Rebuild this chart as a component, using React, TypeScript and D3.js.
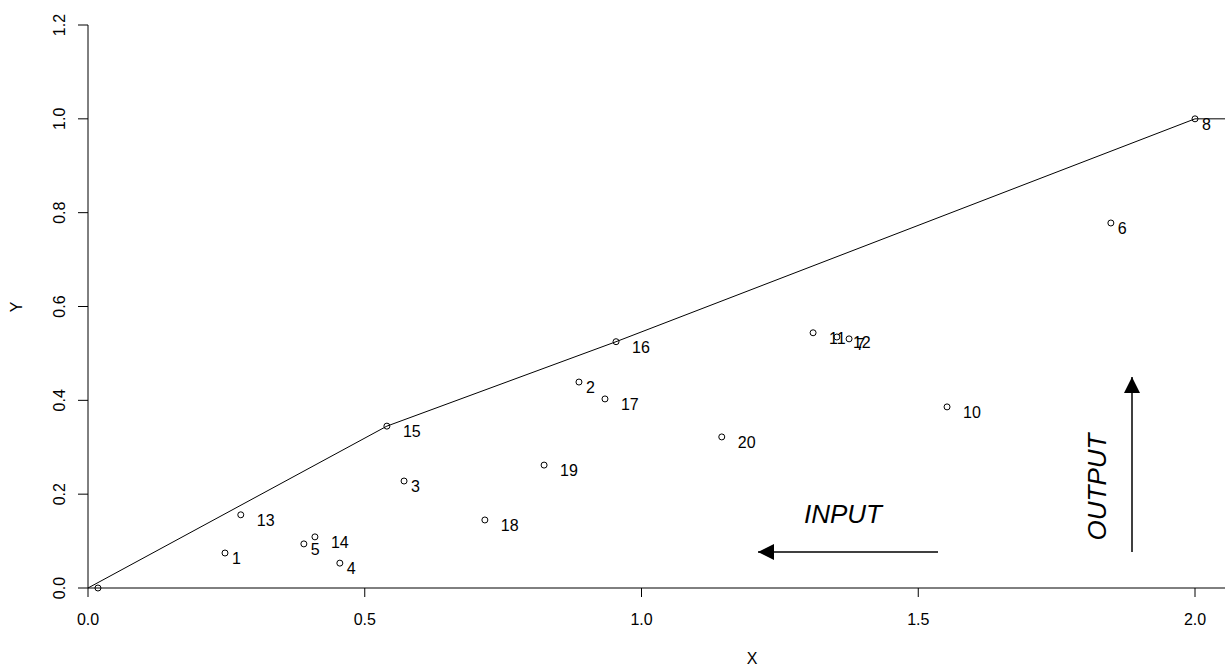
import React from "react";
import * as d3 from "d3";

const pointIds = ["1","2","3","4","5","6","7","8","9","10","11","12","13","14","15","16","17","18","19","20"];
const xValues = [0.2475,0.887,0.571,0.455,0.39,1.848,1.375,2.0,0.018,1.552,1.31,1.353,0.276,0.41,0.54,0.954,0.934,0.717,0.824,1.145];
const yValues = [0.0746,0.439,0.228,0.053,0.094,0.778,0.531,1.0,0.0,0.386,0.544,0.535,0.156,0.109,0.345,0.525,0.403,0.145,0.262,0.322];
const hiddenLabels = ["9"];
const frontierX = [0, 0.54, 0.954, 2.0, 2.6];
const frontierY = [0, 0.345, 0.525, 1.0, 1.0];
const xTicks = [0, 0.5, 1.0, 1.5, 2.0];
const yTicks = [0, 0.2, 0.4, 0.6, 0.8, 1.0, 1.2];
const xTitle = "X";
const yTitle = "Y";

const W = 1225, H = 668;
const FONT = "'Liberation Sans', Arial, sans-serif";

export default function App() {
  const x = d3.scaleLinear().domain([0, 2]).range([88, 1195]);
  const y = d3.scaleLinear().domain([0, 1.2]).range([588, 25]);
  const line = d3.line<[number, number]>().x(d => x(d[0])).y(d => y(d[1]));
  const frontier = line(frontierX.map((v, i) => [v, frontierY[i]] as [number, number])) || "";
  const baseLine = line([[0, 0], [2.6, 0]]) || "";
  const fmt = d3.format(".1f");

  return (
    <svg width={W} height={H} style={{ position: "absolute", left: 0, top: 0, background: "#fff" }} fontFamily={FONT}>
      <defs>
        <marker id="ah" viewBox="0 0 16 16" refX="16" refY="8" markerWidth="16" markerHeight="16" markerUnits="userSpaceOnUse" orient="auto">
          <path d="M0,0 L16,8 L0,16 Z" fill="#000" />
        </marker>
      </defs>
      <rect width={W} height={H} fill="#fff" />
      {/* y axis */}
      <line x1={x(0)} x2={x(0)} y1={y(1.2)} y2={y(0)} stroke="#000" strokeWidth={1} />
      {yTicks.map(t => (
        <g key={"yt" + t}>
          <line x1={x(0) - 10} x2={x(0)} y1={y(t)} y2={y(t)} stroke="#000" />
          <text transform={`translate(${x(0) - 23},${y(t)}) rotate(-90)`} textAnchor="middle" fontSize={16} fill="#000">{fmt(t)}</text>
        </g>
      ))}
      {/* x axis */}
      <path d={baseLine} stroke="#000" fill="none" strokeWidth={1} />
      {xTicks.map(t => (
        <g key={"xt" + t}>
          <line x1={x(t)} x2={x(t)} y1={y(0)} y2={y(0) + 9} stroke="#000" />
          <text x={x(t)} y={625} textAnchor="middle" fontSize={16} fill="#000">{fmt(t)}</text>
        </g>
      ))}
      <text x={752} y={664} textAnchor="middle" fontSize={16} fill="#000">{xTitle}</text>
      <text transform={`translate(22,307) rotate(-90)`} textAnchor="middle" fontSize={16} fill="#000">{yTitle}</text>
      {/* frontier */}
      <path d={frontier} stroke="#000" fill="none" strokeWidth={1} />
      {/* points */}
      {pointIds.map((id, i) => (
        <g key={"p" + id}>
          <circle cx={x(xValues[i])} cy={y(yValues[i])} r={3} fill="none" stroke="#000" strokeWidth={1} />
          {hiddenLabels.includes(id) ? null : (
            <text x={x(xValues[i]) + (id.length === 1 ? 7 : 16)} y={y(yValues[i]) + 11} fontSize={16} fill="#000">{id}</text>
          )}
        </g>
      ))}
      {/* annotations */}
      <text x={843} y={523} textAnchor="middle" fontSize={26} fontStyle="italic" fill="#000">INPUT</text>
      <line x1={938} y1={552} x2={758} y2={552} stroke="#000" strokeWidth={1.5} markerEnd="url(#ah)" />
      <text transform="translate(1106,487) rotate(-90)" textAnchor="middle" fontSize={26} fontStyle="italic" fill="#000">OUTPUT</text>
      <line x1={1132} y1={552} x2={1132} y2={377} stroke="#000" strokeWidth={1.5} markerEnd="url(#ah)" />
    </svg>
  );
}
